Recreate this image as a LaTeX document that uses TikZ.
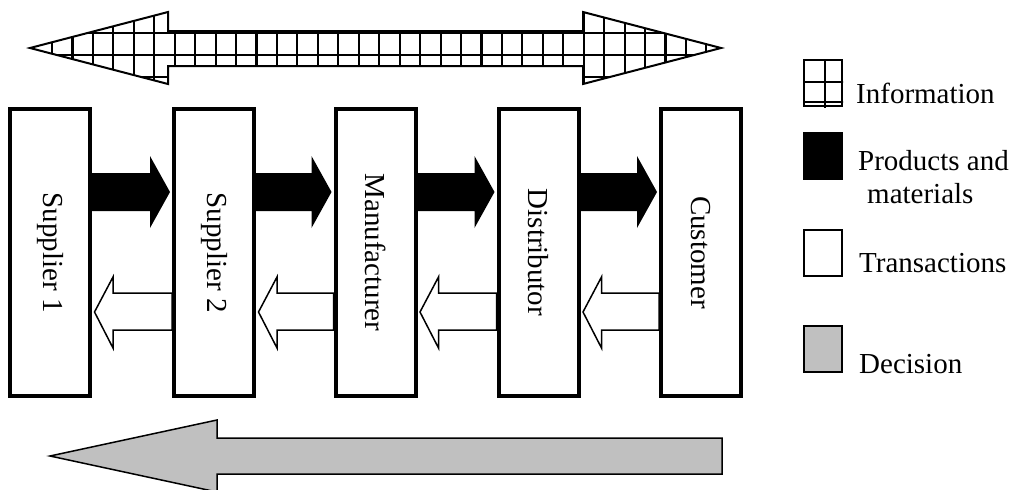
\documentclass[tikz,border=0pt]{standalone}
\usepackage{fontspec}
\setmainfont{Liberation Serif}
\usetikzlibrary{calc}
\pgfdeclarelayer{bg}
\pgfsetlayers{bg,main}
\definecolor{decgray}{HTML}{C0C0C0}
\begin{document}
\begin{tikzpicture}[x=1pt,y=-1pt,
  txt/.style={font=\fontsize{29}{34}\selectfont, inner sep=0pt},
  entity/.style={draw, line width=4pt, fill=white, minimum width=80pt, minimum height=287pt, inner sep=0pt},
  legbox/.style={draw, line width=2pt, minimum width=38pt, minimum height=46pt, inner sep=0pt},
  prodarrow/.style={fill=black},
  transarrow/.style={draw=black, line width=1.5pt, fill=white, line join=miter},
  infoline/.style={draw=black, line width=2.1pt},
  outline/.style={draw=black, line width=2pt, line join=miter},
  decarrow/.style={draw=black, line width=1.5pt, fill=decgray, line join=miter}]
\useasboundingbox (0,0) rectangle (1013,490);

% information arrow
\begin{scope}
  \clip (30,48) -- (168,12) -- (168,31) -- (583,31) -- (583,12) -- (721,48)
        -- (583,84) -- (583,66) -- (168,66) -- (168,84) -- cycle;
  \foreach \k in {-1,...,33} {\path[infoline] (52+20.45*\k,0) -- (52+20.45*\k,100);}
  \foreach \yy in {11,33,55,77} {\path[infoline] (0,\yy) -- (740,\yy);}
\end{scope}
\path[outline] (30,48) -- (168,12) -- (168,31) -- (583,31) -- (583,12) -- (721,48)
      -- (583,84) -- (583,66) -- (168,66) -- (168,84) -- cycle;

% entities
\node[entity] (s1) at (50,252.5) {};
\node[entity] (s2) at (214,252.5) {};
\node[entity] (mf) at (375.5,252.5) {};
\node[entity] (ds) at (538.5,252.5) {};
\node[entity] (cu) at (701,252.5) {};
\node[txt, rotate=-90] (s1t) at (s1) {Supplier 1};
\node[txt, rotate=-90] (s2t) at (s2) {Supplier 2};
\node[txt, rotate=-90] (mft) at (mf) {Manufacturer};
\node[txt, rotate=-90] (dst) at (ds) {Distributor};
\node[txt, rotate=-90] (cut) at (cu) {Customer};

% flows between entities
\begin{pgfonlayer}{bg}
\foreach \a/\b in {s1/s2, s2/mf, mf/ds, ds/cu} {
  \path[prodarrow] let \p1=(\a.east), \p2=(\b.west) in
    (\x1,-173pt) -- (\x2-22pt,-173pt) -- (\x2-22pt,-156pt) -- (\x2-2pt,-192pt)
    -- (\x2-22pt,-228pt) -- (\x2-22pt,-211pt) -- (\x1,-211pt) -- cycle;
  \path[transarrow] let \p1=(\a.east), \p2=(\b.west) in
    (\x2,-293pt) -- (\x1+21pt,-293pt) -- (\x1+21pt,-277pt) -- (\x1+2.5pt,-312pt)
    -- (\x1+21pt,-348pt) -- (\x1+21pt,-330pt) -- (\x2,-330pt) -- cycle;
}
\end{pgfonlayer}

% decision arrow
\path[decarrow] (50,456) -- (217,420) -- (217,438) -- (722,438) -- (722,474)
      -- (217,474) -- (217,492) -- cycle;

% legend
\node[legbox] (linfo) at (823,83) {};
\begin{scope}
  \clip (linfo.south west) rectangle (linfo.north east);
  \path[infoline] (825,50) -- (825,120);
  \path[infoline] (790,82) -- (850,82);
  \path[infoline] (790,102) -- (850,102);
\end{scope}
\node[legbox] (linfo2) at (823,83) {};
\node[legbox, fill=black] (lprod) at (823,156) {};
\node[legbox, fill=white] (ltrans) at (823,252.5) {};
\node[legbox, fill=decgray] (ldec) at (823,348.5) {};

\node[txt, anchor=base west] (tinfo) at (856,103) {Information};
\node[txt, anchor=base west] (tprod) at (858,170) {Products and};
\node[txt, anchor=base west] (tmat) at (867,203) {materials};
\node[txt, anchor=base west] (ttrans) at (859,272) {Transactions};
\node[txt, anchor=base west] (tdec) at (859,373) {Decision};
\end{tikzpicture}
\end{document}
